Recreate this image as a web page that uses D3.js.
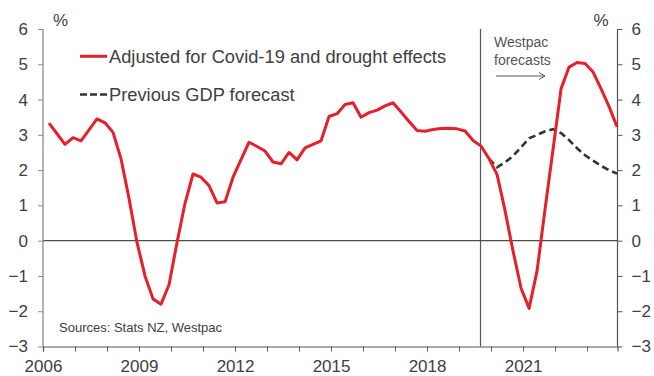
<!DOCTYPE html>
<html>
<head>
<meta charset="utf-8">
<script src="https://cdn.jsdelivr.net/npm/d3@7"></script>
<style>
  html, body { margin: 0; padding: 0; background: #fff; }
  svg { display: block; font-family: Arial, "Liberation Sans", sans-serif; }
</style>
</head>
<body>
<svg id="chart" width="654" height="376"></svg>
<script>
// ---- data ----
const startYear = 2006.1875;   // first quarterly observation
const quarterStep = 0.25;
const adjusted = [
  3.33, 3.03, 2.73, 2.92, 2.83, 3.14, 3.45, 3.34, 3.07, 2.32,
  1.20, -0.05, -1.00, -1.65, -1.80, -1.25, -0.05, 1.06, 1.89, 1.80,
  1.56, 1.07, 1.10, 1.80, 2.30, 2.79, 2.67, 2.54, 2.23, 2.18,
  2.50, 2.29, 2.63, 2.73, 2.83, 3.52, 3.60, 3.86, 3.91, 3.50,
  3.63, 3.70, 3.82, 3.91, 3.65, 3.38, 3.12, 3.10, 3.15, 3.18,
  3.19, 3.17, 3.11, 2.84, 2.68, 2.32, 1.87, 0.85, -0.30, -1.35,
  -1.92, -0.85, 0.90, 2.60, 4.31, 4.92, 5.05, 5.02, 4.78, 4.30,
  3.80, 3.22
];
const previousStartIndex = 55;
const previous = [
  2.32, 2.08, 2.22, 2.40, 2.65, 2.90, 3.00, 3.10, 3.16, 3.05,
  2.85, 2.62, 2.42, 2.27, 2.12, 2.00, 1.90
];
const yTicks = [-3, -2, -1, 0, 1, 2, 3, 4, 5, 6];
const xMajorTicks = [2006, 2009, 2012, 2015, 2018, 2021];
const xMinorTicks = d3.range(2006, 2024, 1);
const forecastStart = 2019.67;
const seriesNames = ["Adjusted for Covid-19 and drought effects", "Previous GDP forecast"];
const sourceText = "Sources: Stats NZ, Westpac";

// ---- layout ----
const svg = d3.select("#chart");
const x = d3.scaleLinear().domain([2006, 2023.95]).range([43, 617.5]);
const y = d3.scaleLinear().domain([-3, 6]).range([346.5, 29]);
const textColor = "#404040";
const red = "#e5202a";

const adjData = adjusted.map((v, i) => ({ t: startYear + i * quarterStep, v }));
const prevData = previous.map((v, i) => ({ t: startYear + (previousStartIndex + i) * quarterStep, v }));

// zero line
svg.append("line")
  .attr("x1", x(2006)).attr("x2", x.range()[1])
  .attr("y1", y(0)).attr("y2", y(0))
  .attr("stroke", "#4d4d4d").attr("stroke-width", 1.2);

// forecast divider
svg.append("line")
  .attr("x1", x(forecastStart)).attr("x2", x(forecastStart))
  .attr("y1", y(6)).attr("y2", y(-3))
  .attr("stroke", "#555").attr("stroke-width", 1.2);

// left axis
const leftAxis = svg.append("g")
  .attr("transform", `translate(${x(2006)},0)`)
  .call(d3.axisLeft(y).tickValues(yTicks).tickSize(5).tickPadding(10).tickFormat(d3.format("d")));
leftAxis.select(".domain").attr("stroke", "#8c8c8c").attr("stroke-width", 1.3);
leftAxis.selectAll(".tick line").attr("stroke", "#8c8c8c");

// right axis
const rightAxis = svg.append("g")
  .attr("transform", `translate(${x.range()[1]},0)`)
  .call(d3.axisRight(y).tickValues(yTicks).tickSize(5).tickPadding(9).tickFormat(d3.format("d")));
rightAxis.select(".domain").attr("stroke", "#555").attr("stroke-width", 1.2);
rightAxis.selectAll(".tick line").attr("stroke", "#555");

// bottom axis
const bottomAxis = svg.append("g")
  .attr("transform", `translate(0,${y(-3)})`)
  .call(d3.axisBottom(x).tickValues(xMinorTicks).tickSize(5).tickFormat(d => xMajorTicks.includes(d) ? String(d) : ""));
bottomAxis.select(".domain").attr("stroke", "#555").attr("stroke-width", 1.2);
bottomAxis.selectAll(".tick line").attr("stroke", "#555");
bottomAxis.selectAll(".tick text").attr("dy", "1.05em");

[leftAxis, rightAxis, bottomAxis].forEach(g => {
  g.selectAll(".tick text").attr("fill", textColor).attr("font-size", 17)
    .attr("font-family", "Arial, 'Liberation Sans', sans-serif");
});
leftAxis.selectAll(".domain").attr("d", `M-0,${y(6)}V${y(-3)}`);
rightAxis.selectAll(".domain").attr("d", `M0,${y(6)}V${y(-3)}`);

// % labels
svg.append("text").attr("x", 60.5).attr("y", 25.5).attr("text-anchor", "middle")
  .attr("font-size", 17).attr("fill", textColor).text("%");
svg.append("text").attr("x", 601).attr("y", 25.5).attr("text-anchor", "middle")
  .attr("font-size", 17).attr("fill", textColor).text("%");

// lines
const line = d3.line().x(d => x(d.t)).y(d => y(d.v));
svg.append("path").datum(prevData)
  .attr("d", line).attr("fill", "none")
  .attr("stroke", "#333").attr("stroke-width", 2.6)
  .attr("stroke-dasharray", "7,4");
svg.append("path").datum(adjData)
  .attr("d", line).attr("fill", "none")
  .attr("stroke", red).attr("stroke-width", 3)
  .attr("stroke-linejoin", "round");

// legend
const legend = svg.append("g");
legend.append("line").attr("x1", 80).attr("x2", 107).attr("y1", 56.3).attr("y2", 56.3)
  .attr("stroke", red).attr("stroke-width", 3);
legend.append("text").attr("x", 109).attr("y", 62.5).attr("font-size", 18.3)
  .attr("fill", textColor).text(seriesNames[0]);
legend.append("line").attr("x1", 80).attr("x2", 107).attr("y1", 94.5).attr("y2", 94.5)
  .attr("stroke", "#333").attr("stroke-width", 2.6).attr("stroke-dasharray", "7,3");
legend.append("text").attr("x", 109).attr("y", 101).attr("font-size", 18.3)
  .attr("fill", textColor).text(seriesNames[1]);

// Westpac forecasts annotation
svg.append("text").attr("x", 494).attr("y", 47).attr("font-size", 14)
  .attr("fill", "#555").text("Westpac");
svg.append("text").attr("x", 494).attr("y", 64.5).attr("font-size", 14)
  .attr("fill", "#555").text("forecasts");
svg.append("line").attr("x1", 496).attr("x2", 545).attr("y1", 76).attr("y2", 76)
  .attr("stroke", "#555").attr("stroke-width", 1);
svg.append("path").attr("d", "M539,72.5L545,76L539,79.5")
  .attr("fill", "none").attr("stroke", "#555").attr("stroke-width", 1);

// source
svg.append("text").attr("x", 59).attr("y", 332).attr("font-size", 13)
  .attr("fill", textColor).text(sourceText);
</script>
</body>
</html>
